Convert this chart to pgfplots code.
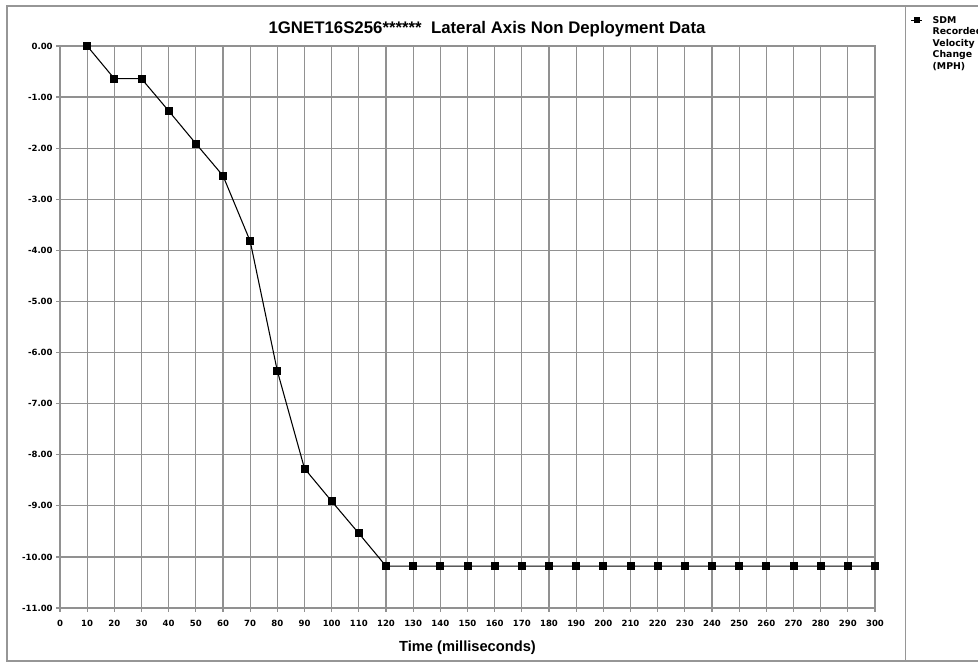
\documentclass[border=0pt]{standalone}
\usepackage{pgfplots}
\pgfplotsset{compat=1.18}
\usepackage{fontspec}
\setmainfont{Liberation Sans}
\newfontfamily\tickfont{DejaVu Sans}
\definecolor{gridgray}{RGB}{145,145,145}
\definecolor{framegray}{RGB}{150,150,150}
\begin{document}
\begin{tikzpicture}
\useasboundingbox (0,0) rectangle (733.5pt,497.25pt);
% outer frame
\draw[framegray, line width=1.1pt] (733.5pt,492.75pt) -- (5.25pt,492.75pt) -- (5.25pt,1.5pt) -- (733.5pt,1.5pt);
\draw[framegray, line width=1.1pt] (679.1pt,492.75pt) -- (679.1pt,1.5pt);
\begin{axis}[
  at={(45pt,41.25pt)}, anchor=south west,
  scale only axis, width=611.25pt, height=421.5pt,
  xmin=0, xmax=300, ymin=-11, ymax=0,
  xtick={0,10,...,300}, ytick={-11,-10,...,0},
  grid=major,
  major grid style={gridgray, line width=0.9pt},
  axis line style={gridgray, line width=0.9pt},
  tick style={gridgray, line width=0.9pt},
  tick align=outside, major tick length=3pt,
  xtick pos=bottom, ytick pos=left,
  tick label style={font=\tickfont\bfseries\fontsize{6.4}{7}\selectfont},
  /pgf/number format/assume math mode=true,
  yticklabel={\pgfmathprintnumber[fixed,zerofill,precision=2,assume math mode=true]{\tick}},
  xticklabel style={yshift=-2.5pt},
  yticklabel style={xshift=1pt},
  every axis title/.style={at={(0.524,1)}, anchor=base, yshift=9.2pt,
     font=\bfseries\fontsize{12.6}{14}\selectfont},
  title={1GNET16S256******\ \ Lateral Axis Non Deployment Data},
  every axis x label/.style={at={(0.5,0)}, anchor=base, yshift=-33pt,
     font=\bfseries\fontsize{11}{13}\selectfont},
  xlabel={Time (milliseconds)},
  legend style={at={(axis description cs:1.043,1.06)}, anchor=north west, draw=none, fill=none,
    font=\tickfont\bfseries\fontsize{7}{8.6}\selectfont, inner sep=0pt, row sep=0pt},
  legend cell align=left,
  legend image code/.code={\draw[black, line width=0.8pt] (-3pt,0pt) -- (5pt,0pt); \fill[black] (-0.3pt,-1.8pt) rectangle (3.3pt,1.8pt);},
  clip=false,
]
\addplot[black, line width=0.8pt, mark=square*, mark size=2.6pt, mark options={solid,fill=black}]
coordinates {
(10,0) (20,-0.64) (30,-0.64) (40,-1.27) (50,-1.91) (60,-2.54) (70,-3.82) (80,-6.36)
(90,-8.27) (100,-8.91) (110,-9.54) (120,-10.18) (130,-10.18) (140,-10.18) (150,-10.18)
(160,-10.18) (170,-10.18) (180,-10.18) (190,-10.18) (200,-10.18) (210,-10.18) (220,-10.18)
(230,-10.18) (240,-10.18) (250,-10.18) (260,-10.18) (270,-10.18) (280,-10.18) (290,-10.18) (300,-10.18)
};
\addlegendentry{\begin{tabular}[t]{@{\hspace{6pt}}l@{}}SDM\\Recorded\\Velocity\\Change\\(MPH)\end{tabular}}
\end{axis}
\end{tikzpicture}
\end{document}
